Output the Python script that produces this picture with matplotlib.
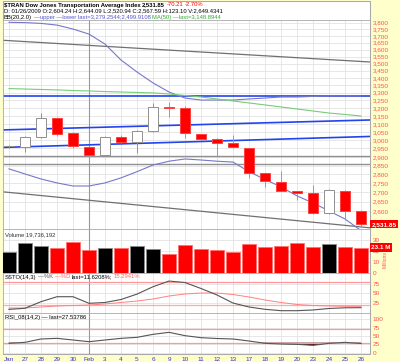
import numpy as np
import matplotlib
matplotlib.use('Agg')
import matplotlib.pyplot as plt
from matplotlib import font_manager
from matplotlib.patches import Rectangle
from matplotlib.transforms import blended_transform_factory

# daily bars, $TRAN, Jan 26 - Feb 26 2009
dates = ['Jan', '27', '28', '29', '30', 'Feb', '3', '4', '5', '6', '9', '10',
         '11', '12', '13', '17', '18', '19', '20', '23', '24', '25', '26']
opens = [2962, 2960, 3021, 3135, 3045, 2960, 2909, 3021, 2991, 3056, 3205, 3202,
         3037, 3007, 2985, 2951, 2806, 2759, 2708, 2699, 2589, 2708, 2603]
highs = [2972, 3026, 3166, 3140, 3050, 2962, 3025, 3030, 3060, 3231, 3241, 3210,
         3040, 3011, 3031, 2955, 2810, 2821, 2710, 2741, 2720, 2712, 2604]
lows = [2955, 2931, 3015, 3025, 2951, 2872, 2905, 2985, 2922, 3050, 3145, 3011,
        3000, 2901, 2955, 2778, 2731, 2705, 2659, 2585, 2585, 2554, 2521]
closes = [2966, 3021, 3135, 3037, 2967, 2911, 3021, 2991, 3056, 3205, 3203, 3041,
          3005, 2985, 2957, 2806, 2765, 2710, 2699, 2589, 2713, 2603, 2531.85]
volume = [19.1, 27.3, 24.8, 22.7, 27.9, 20.6, 22.7, 22.7, 24.3, 22.1, 17.3, 25.2,
          22.0, 21.0, 19.0, 26.0, 24.0, 25.0, 27.0, 24.0, 26.0, 23.5, 23.1]  # millions

bb_upper = [3803, 3801, 3795, 3782, 3752, 3714, 3640, 3525, 3441, 3366, 3305, 3265,
            3252, 3252, 3252, 3259, 3265, 3272, 3272, 3276, 3279, 3279, 3279]
bb_lower = [2831, 2802, 2774, 2752, 2735, 2735, 2752, 2780, 2815, 2853, 2875, 2888,
            2882, 2875, 2870, 2815, 2771, 2730, 2681, 2643, 2601, 2559, 2500]
ma50 = [3328, 3325, 3322, 3319, 3315, 3312, 3308, 3305, 3302, 3299, 3292, 3282,
        3272, 3259, 3246, 3233, 3220, 3207, 3194, 3181, 3168, 3159, 3149]

# trendlines drawn on the chart (price at left edge, price at right edge)
trend_top = [3668, 3511]
trend_flat = [3280, 3280]
trend_mid = [3062, 3124]
trend_low = [2956, 3022]
support = [2906, 2860]
trend_bottom = [2703, 2514]

sto_k = [7, 10, 27.6, 41, 41, 23.3, 25.5, 33.5, 48, 67.8, 83, 79, 63, 45.6, 24,
         13.4, 7.2, 3.5, 3.5, 5.4, 9.4, 11.3, 11.6]
sto_d = [10.7, 10.7, 13.4, 16.1, 17.4, 18.8, 21.4, 25.5, 29.5, 34.9, 42.9, 48.3,
         50.9, 50.9, 46.9, 40.2, 32.2, 25.5, 20.1, 17.4, 16.1, 15.3, 15.3]
rsi = [28, 31, 41, 43, 38, 33, 38, 43, 46, 55, 61, 51, 45, 42.5, 41, 35, 28, 26,
       25, 22, 28, 31, 27.5]

names = {f.name for f in font_manager.fontManager.ttflist}
if 'Liberation Sans Narrow' in names:
    plt.rcParams['font.family'] = ['Liberation Sans Narrow', 'DejaVu Sans']
else:
    plt.rcParams['font.family'] = ['Liberation Sans', 'DejaVu Sans']

W, H = 400, 362
RED = '#FF0000'
AXCOL = '#FF5050'
FS = 4.6
HFS = 4.2

fig = plt.figure(figsize=(4, 3.62), dpi=100, facecolor='#FFFFCC')
fig.patches.append(Rectangle((3 / W, 1 - 354 / H), 367 / W, 353 / H, transform=fig.transFigure,
                             facecolor='white', edgecolor='#AAAAAA', lw=0.8, zorder=-10))


def panel(top, bottom):
    a = fig.add_axes([3 / W, 1 - bottom / H, 367 / W, (bottom - top) / H])
    a.set_facecolor('white')
    for s in a.spines.values():
        s.set_color('#AAAAAA')
        s.set_linewidth(0.6)
    a.yaxis.tick_right()
    a.tick_params(axis='y', length=0, pad=2, labelsize=FS, labelcolor=AXCOL)
    a.tick_params(axis='x', length=0, labelbottom=False)
    x = np.arange(len(dates))
    a.set_xticks(x)
    a.set_xlim(-0.375, 22.56)
    a.grid(True, color='#DDDDDD', lw=0.5)
    a.set_axisbelow(True)
    a.axvline(dates.index('Feb'), color='#999999', lw=0.8, zorder=1)
    return a


x = np.arange(len(dates))

# ---- price panel
ax = panel(20, 229)
ax.set_yscale('log')
ax.set_ylim(2508, 3821)
ticks = list(range(2600, 3801, 50))
ax.set_yticks(ticks)
ax.set_yticklabels([f'{t:,}' for t in ticks])
ax.yaxis.set_minor_locator(plt.NullLocator())
ax.yaxis.set_minor_formatter(plt.NullFormatter())

xe = [-0.375, 22.56]
ax.plot(xe, trend_top, color='#707070', lw=0.9, zorder=2)
ax.plot(xe, trend_flat, color='#2244EE', lw=1.2, zorder=2)
ax.plot(xe, trend_mid, color='#2244EE', lw=1.2, zorder=2)
ax.plot(xe, trend_low, color='#2244EE', lw=1.2, zorder=2)
for s in support:
    ax.axhline(s, color='#909090', lw=1.0, zorder=2)
ax.plot(xe, trend_bottom, color='#707070', lw=0.9, zorder=2)

ax.plot(x, bb_upper, color='#7777CC', lw=0.8, zorder=2)
ax.plot(x, bb_lower, color='#7777CC', lw=0.8, zorder=2)
ax.plot(x, ma50, color='#77CC77', lw=0.8, zorder=2)

for i in x:
    o, h, l, c = opens[i], highs[i], lows[i], closes[i]
    up = c >= o
    wc = '#909090' if up else '#FF7070'
    ax.vlines(i, l, h, color=wc, lw=0.7, zorder=3)
    ax.bar(i, max(abs(c - o), 1), bottom=min(o, c), width=0.62,
           facecolor='white' if up else RED, edgecolor='#909090' if up else '#FF4040',
           lw=0.7, zorder=4)

tr = blended_transform_factory(ax.transAxes, ax.transData)
ax.text(1.004, closes[-1], f'{closes[-1]:,.2f}', transform=tr, ha='left', va='center',
        color='white', fontsize=FS, fontweight='bold', clip_on=False, zorder=10,
        bbox=dict(boxstyle='square,pad=0.25', fc=RED, ec='none'))

# ---- volume panel
av = panel(229, 273)
prev = [closes[0]] + closes[:-1]
vcol = ['black' if c >= p else RED for c, p in zip(closes, prev)]
vedge = ['#888888' if c == 'black' else '#FF7070' for c in vcol]
av.bar(x, volume, width=0.88, color=vcol, edgecolor=vedge, lw=0.6, zorder=3)
av.set_ylim(0, 40)
av.set_yticks([0, 10, 20, 30])
av.text(0.005, 0.93, 'Volume 19,736,192', transform=av.transAxes, fontsize=HFS,
        va='top', color='#333333')
trv = blended_transform_factory(av.transAxes, av.transData)
av.text(1.004, volume[-1], f'{volume[-1]:.1f} M', transform=trv, ha='left', va='center',
        color='white', fontsize=FS, fontweight='bold', clip_on=False, zorder=10,
        bbox=dict(boxstyle='square,pad=0.25', fc=RED, ec='none'))
av.text(1.035, 0.3, 'Millions', transform=av.transAxes, rotation=90, fontsize=3.6,
        color=AXCOL, ha='left', va='center')

# ---- slow stochastics
a_s = panel(273, 313)
a_s.set_ylim(-2.7, 104.6)
a_s.set_yticks([25, 50, 75])
a_s.axhline(80, color='#FF9999', lw=0.9)
a_s.axhline(20, color='#FFAAAA', lw=0.9)
a_s.plot(x, sto_d, color='#FF8080', lw=0.7, zorder=3)
a_s.plot(x, sto_k, color='#555555', lw=0.8, zorder=4)

# ---- RSI
ar = panel(313, 354)
ar.set_ylim(-4, 119)
ar.set_yticks([0, 25, 50, 75, 100])
ar.axhline(70, color='#FF9999', lw=0.9)
ar.axhline(30, color='#FF9999', lw=0.9)
rsi_a = np.array(rsi)
ar.fill_between(x, rsi_a, 30, where=rsi_a < 30, interpolate=True, color='#550000', lw=0)
ar.plot(x, rsi, color='#555555', lw=0.8, zorder=3)
ar.tick_params(axis='x', labelbottom=True, labelsize=FS, labelcolor='#3333CC', pad=2)
ar.set_xticklabels(dates)


def seq_text(x0, y0, parts):
    r = fig.canvas.get_renderer()
    xp = x0
    for s, c, w in parts:
        t = fig.text(xp / W, 1 - y0 / H, s, color=c, fontsize=HFS, fontweight=w,
                     va='center', ha='left', zorder=20)
        xp += t.get_window_extent(renderer=r).width + 1.5


seq_text(4, 5, [('$TRAN Dow Jones Transportation Average Index', 'black', 'bold'),
                ('2,531.85', 'black', 'bold'),
                ('-70.21', RED, 'normal'), ('-2.70%', RED, 'normal')])
seq_text(4, 11, [('D: 01/26/2009 O:2,604.24 H:2,644.09 L:2,520.94 C:2,567.59 H:123.10 V:2,649.4341',
                  'black', 'normal')])
seq_text(4, 17, [('BB(20,2.0)', 'black', 'normal'),
                 ('\u2014upper \u2014lower last=3,279.2544;2,499.9108', '#5555CC', 'normal'),
                 ('MA(50) \u2014last=3,148.8944', '#33AA33', 'normal')])
seq_text(5, 277, [('SSTO(14,3)', 'black', 'normal'), ('\u2014%K', '#555555', 'normal'),
                  ('\u2014%D', '#FF6666', 'normal'), ('last=11.6208%;', 'black', 'normal'),
                  ('15.2941%', '#FF6666', 'normal')])
seq_text(5, 317, [('RSI_08(14,2) \u2014 last=27.53786', 'black', 'normal')])

fig.savefig('out.png', dpi=100, facecolor=fig.get_facecolor())
